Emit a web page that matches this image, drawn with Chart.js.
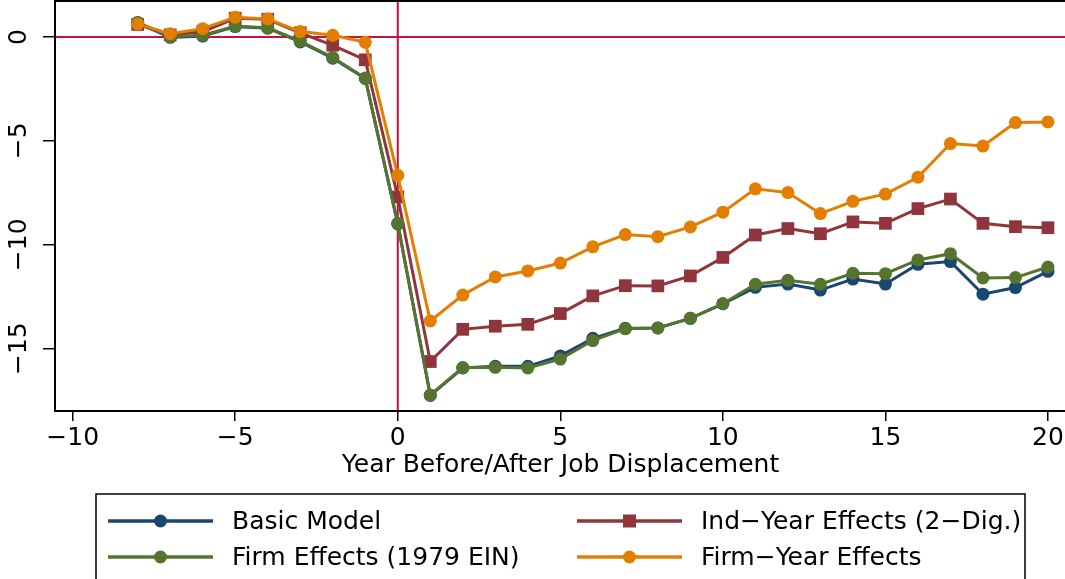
<!DOCTYPE html>
<html>
<head>
<meta charset="utf-8">
<script src="https://cdn.jsdelivr.net/npm/chart.js@4"></script>
<style>
  html, body { margin: 0; padding: 0; background: #fff; overflow: hidden; }
  /* chart.js keeps ~8px above the plot; pull the canvas up so the frame sits at the top edge */
  #wrap { width: 1075px; height: 587px; margin-top: -8px; position: relative; }
</style>
</head>
<body>
<div id="wrap"><canvas id="earnings-chart"></canvas></div>
<script>
// years relative to displacement
const years = [-8, -7, -6, -5, -4, -3, -2, -1, 0, 1, 2, 3, 4, 5, 6, 7, 8, 9, 10, 11, 12, 13, 14, 15, 16, 17, 18, 19, 20];

// series values
const basicModel = [0.68, -0.02, 0.04, 0.50, 0.42, -0.24, -1.02, -2.00, -9.00, -17.25, -15.93, -15.85, -15.85, -15.35, -14.50, -14.02, -14.00, -13.54, -12.84, -12.05, -11.89, -12.18, -11.65, -11.89, -10.94, -10.81, -12.38, -12.06, -11.28];
const indYearEffects = [0.60, 0.10, 0.25, 0.90, 0.85, 0.20, -0.40, -1.10, -7.70, -15.62, -14.07, -13.92, -13.83, -13.31, -12.46, -11.97, -11.98, -11.50, -10.61, -9.53, -9.22, -9.47, -8.90, -8.97, -8.26, -7.80, -8.97, -9.13, -9.18];
const firmEffects = [0.70, 0.02, 0.08, 0.52, 0.44, -0.20, -0.99, -1.98, -8.97, -17.23, -15.91, -15.90, -15.93, -15.50, -14.61, -14.04, -14.00, -13.54, -12.84, -11.90, -11.71, -11.90, -11.37, -11.39, -10.73, -10.43, -11.60, -11.58, -11.07];
const firmYearEffects = [0.62, 0.16, 0.40, 0.95, 0.87, 0.26, 0.08, -0.26, -6.66, -13.67, -12.42, -11.55, -11.26, -10.88, -10.10, -9.51, -9.61, -9.14, -8.43, -7.31, -7.49, -8.50, -7.91, -7.56, -6.75, -5.13, -5.25, -4.12, -4.09];

const seriesLabels = ["Basic Model", "Ind\u2212Year Effects (2\u2212Dig.)", "Firm Effects (1979 EIN)", "Firm\u2212Year Effects"];

// tick labels
const xTicks = [-10, -5, 0, 5, 10, 15, 20];
const yTicks = [-15, -10, -5, 0];

const FONT = "DejaVu Sans";
const refColor = "#c8103c";

function toPoints(vals) {
  return years.map((y, i) => ({ x: y, y: vals[i] }));
}

function minusSign(v) {
  return String(v).replace("-", "\u2212");
}

function noPad(axis) {
  axis.paddingLeft = 0;
  axis.paddingRight = 0;
  axis.paddingTop = 0;
  axis.paddingBottom = 0;
}

// red reference lines at x = 0 and y = 0, plus plot frame
const refLines = {
  id: "refLines",
  beforeDatasetsDraw(chart) {
    const { ctx, chartArea, scales } = chart;
    const x0 = scales.x.getPixelForValue(0);
    const y0 = scales.y.getPixelForValue(0);
    ctx.save();
    ctx.strokeStyle = refColor;
    ctx.lineWidth = 2;
    ctx.beginPath();
    ctx.moveTo(x0, chartArea.top);
    ctx.lineTo(x0, chartArea.bottom);
    ctx.moveTo(chartArea.left, y0);
    ctx.lineTo(chartArea.right, y0);
    ctx.stroke();
    ctx.restore();
  },
  afterDraw(chart) {
    const { ctx, chartArea } = chart;
    ctx.save();
    ctx.strokeStyle = "#000";
    ctx.lineWidth = 2;
    ctx.strokeRect(chartArea.left, chartArea.top, chartArea.right - chartArea.left, chartArea.bottom - chartArea.top);
    ctx.restore();
  }
};

// stata-like boxed legend, two columns (bottom edge runs off the page)
const boxLegend = {
  id: "boxLegend",
  afterDraw(chart) {
    const ctx = chart.ctx;
    const top = 502;
    const slots = [
      { x: 108, y: top + 27 },
      { x: 577, y: top + 27 },
      { x: 108, y: top + 63 },
      { x: 577, y: top + 63 }
    ];
    ctx.save();
    ctx.strokeStyle = "#000";
    ctx.lineWidth = 1.5;
    ctx.beginPath();
    ctx.moveTo(96, 700);
    ctx.lineTo(96, top);
    ctx.lineTo(1025, top);
    ctx.lineTo(1025, 700);
    ctx.stroke();
    chart.data.datasets.forEach((ds, i) => {
      const s = slots[i];
      ctx.strokeStyle = ds.borderColor;
      ctx.lineWidth = 3.5;
      ctx.beginPath();
      ctx.moveTo(s.x, s.y);
      ctx.lineTo(s.x + 105, s.y);
      ctx.stroke();
      ctx.fillStyle = ds.borderColor;
      ctx.beginPath();
      if (ds.pointStyle === "rect") {
        ctx.rect(s.x + 52.5 - 6.5, s.y - 6.5, 13, 13);
      } else {
        ctx.arc(s.x + 52.5, s.y, 6.5, 0, Math.PI * 2);
      }
      ctx.fill();
      ctx.fillStyle = "#000";
      ctx.font = "25px '" + FONT + "'";
      ctx.textBaseline = "middle";
      ctx.textAlign = "left";
      ctx.fillText(ds.label, s.x + 124, s.y + 1);
    });
    ctx.restore();
  }
};

function makeSet(label, vals, color, style, order) {
  return {
    label: label,
    data: toPoints(vals),
    borderColor: color,
    backgroundColor: color,
    borderWidth: 3,
    pointStyle: style,
    pointRadius: style === "rect" ? 9 : 6.5,
    pointBorderWidth: 0,
    pointBackgroundColor: color,
    tension: 0,
    order: order
  };
}

const ctx = document.getElementById("earnings-chart").getContext("2d");
new Chart(ctx, {
  type: "line",
  data: {
    datasets: [
      makeSet(seriesLabels[0], basicModel, "#1a476f", "circle", 3),
      makeSet(seriesLabels[1], indYearEffects, "#90353b", "rect", 2),
      makeSet(seriesLabels[2], firmEffects, "#55752f", "circle", 1),
      makeSet(seriesLabels[3], firmYearEffects, "#e37e00", "circle", 0)
    ]
  },
  options: {
    responsive: true,
    maintainAspectRatio: false,
    animation: false,
    events: [],
    layout: { padding: { top: 1, right: 0, bottom: 98, left: 0 } },
    plugins: {
      legend: { display: false },
      tooltip: { enabled: false }
    },
    scales: {
      x: {
        type: "linear",
        min: -10.544,
        max: 20.555,
        afterBuildTicks: (axis) => { axis.ticks = xTicks.map(v => ({ value: v })); },
        afterFit: (axis) => { axis.height = 70; noPad(axis); },
        border: { display: false },
        grid: { drawOnChartArea: false, color: "#000", lineWidth: 1.5, tickLength: 10 },
        ticks: {
          color: "#000",
          font: { family: FONT, size: 25 },
          padding: 2,
          maxRotation: 0,
          autoSkip: false,
          callback: (v) => minusSign(v)
        },
        title: {
          display: true,
          text: "Year Before/After Job Displacement",
          color: "#000",
          font: { family: FONT, size: 25 },
          padding: { top: 0, bottom: 1 }
        }
      },
      y: {
        type: "linear",
        min: -18,
        max: 1.73,
        afterBuildTicks: (axis) => { axis.ticks = yTicks.map(v => ({ value: v })); },
        afterFit: (axis) => { axis.width = 55; noPad(axis); },
        border: { display: false },
        grid: { drawOnChartArea: false, color: "#000", lineWidth: 1.5, tickLength: 12 },
        ticks: {
          color: "#000",
          font: { family: FONT, size: 25 },
          padding: -3,
          minRotation: 90,
          maxRotation: 90,
          crossAlign: "center",
          autoSkip: false,
          callback: (v) => minusSign(v)
        }
      }
    }
  },
  plugins: [refLines, boxLegend]
});
</script>
</body>
</html>
